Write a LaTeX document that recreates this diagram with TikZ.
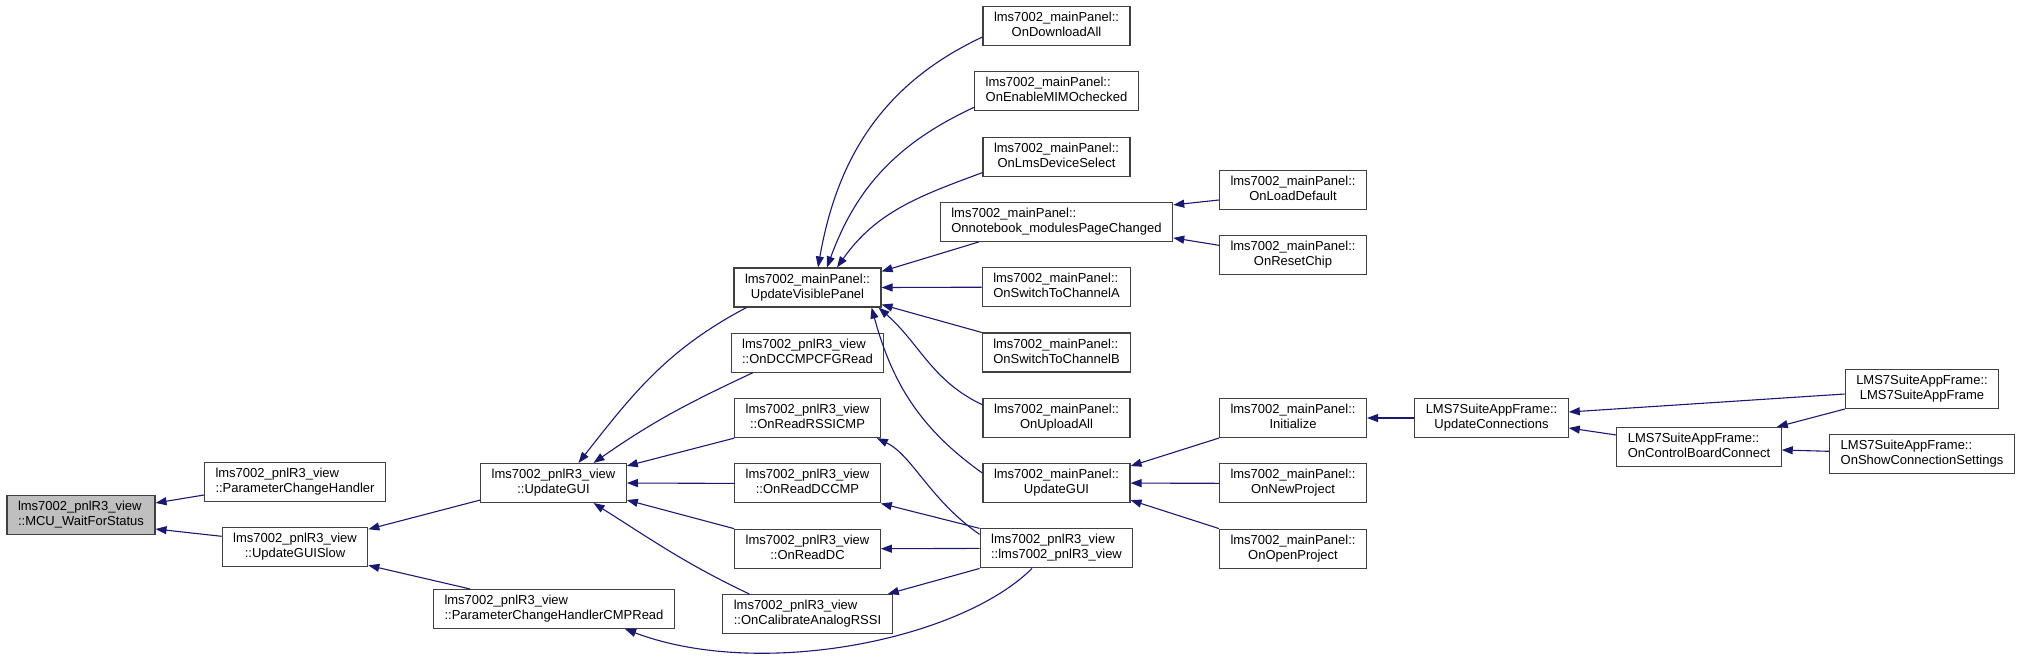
\documentclass[tikz,border=0pt]{standalone}
\usepackage{fontspec}
\setmainfont{Liberation Sans}
\usepackage{tikz}
\usetikzlibrary{arrows.meta,positioning}
\definecolor{edgeblue}{HTML}{191970}
\newcommand{\fnlabel}[2]{\begin{tabular}{@{}c@{}}\multicolumn{1}{@{}l@{}}{#1}\\#2\end{tabular}}

\begin{document}
\begin{tikzpicture}[
  x=1pt, y=-1pt,
  font=\fontsize{13}{15}\selectfont,
  fn/.style={draw=black!75, line width=1.1pt, fill=white, minimum height=39pt, inner xsep=11pt, inner ysep=2pt},
  root/.style={fn, fill=black!25},
  arr/.style={edgeblue, line width=1.1pt, -{Triangle[length=11pt, width=8pt]}},
  node distance=25.2pt
]
\useasboundingbox (0,0) rectangle (2021,665);
\node[root] (mcu) at (81,515) {\fnlabel{lms7002\_pnlR3\_view}{::MCU\_WaitForStatus}};
\node[fn] (pch) at (295,482) {\fnlabel{lms7002\_pnlR3\_view}{::ParameterChangeHandler}};
\node[fn, below=of pch] (ugs) {\fnlabel{lms7002\_pnlR3\_view}{::UpdateGUISlow}};
\node[fn] (pgui) at (553.5,483) {\fnlabel{lms7002\_pnlR3\_view}{::UpdateGUI}};
\node[fn] (cmpr) at (554,609) {\fnlabel{lms7002\_pnlR3\_view}{::ParameterChangeHandlerCMPRead}};
\node[fn] (uvp) at (807.5,287.5) {\fnlabel{lms7002\_mainPanel::}{UpdateVisiblePanel}};
\node[fn, below=of uvp] (cfg) {\fnlabel{lms7002\_pnlR3\_view}{::OnDCCMPCFGRead}};
\node[fn, below=of cfg] (rssi) {\fnlabel{lms7002\_pnlR3\_view}{::OnReadRSSICMP}};
\node[fn, below=of rssi] (dccmp) {\fnlabel{lms7002\_pnlR3\_view}{::OnReadDCCMP}};
\node[fn, below=of dccmp] (rdc) {\fnlabel{lms7002\_pnlR3\_view}{::OnReadDC}};
\node[fn, below=of rdc] (cal) {\fnlabel{lms7002\_pnlR3\_view}{::OnCalibrateAnalogRSSI}};
\node[fn] (dl) at (1056.5,26) {\fnlabel{lms7002\_mainPanel::}{OnDownloadAll}};
\node[fn, below=of dl] (mimo) {\fnlabel{lms7002\_mainPanel::}{OnEnableMIMOchecked}};
\node[fn, below=of mimo] (lms) {\fnlabel{lms7002\_mainPanel::}{OnLmsDeviceSelect}};
\node[fn, below=of lms] (nb) {\fnlabel{lms7002\_mainPanel::}{Onnotebook\_modulesPageChanged}};
\node[fn, below=of nb] (cha) {\fnlabel{lms7002\_mainPanel::}{OnSwitchToChannelA}};
\node[fn, below=of cha] (chb) {\fnlabel{lms7002\_mainPanel::}{OnSwitchToChannelB}};
\node[fn, below=of chb] (upl) {\fnlabel{lms7002\_mainPanel::}{OnUploadAll}};
\node[fn, below=of upl] (mgui) {\fnlabel{lms7002\_mainPanel::}{UpdateGUI}};
\node[fn, below=of mgui] (ctor) {\fnlabel{lms7002\_pnlR3\_view}{::lms7002\_pnlR3\_view}};
\node[fn] (ldef) at (1293,190) {\fnlabel{lms7002\_mainPanel::}{OnLoadDefault}};
\node[fn, below=of ldef] (rst) {\fnlabel{lms7002\_mainPanel::}{OnResetChip}};
\node[fn] (init) at (1293,418) {\fnlabel{lms7002\_mainPanel::}{Initialize}};
\node[fn, below=of init] (newp) {\fnlabel{lms7002\_mainPanel::}{OnNewProject}};
\node[fn, below=of newp] (openp) {\fnlabel{lms7002\_mainPanel::}{OnOpenProject}};
\node[fn] (upc) at (1491.5,418) {\fnlabel{LMS7SuiteAppFrame::}{UpdateConnections}};
\node[fn] (cbc) at (1699,447) {\fnlabel{LMS7SuiteAppFrame::}{OnControlBoardConnect}};
\node[fn] (frame) at (1922,389) {\fnlabel{LMS7SuiteAppFrame::}{LMS7SuiteAppFrame}};
\node[fn, below=of frame] (scs) {\fnlabel{LMS7SuiteAppFrame::}{OnShowConnectionSettings}};
\draw[arr] ([yshift=-13pt]pch.west) -- ([yshift=12pt]mcu.east);
\draw[arr] ([yshift=11pt]ugs.west) -- ([yshift=-14pt]mcu.east);
\draw[arr] ([yshift=3pt]pgui.south west) -- ([yshift=-2pt]ugs.north east);
\draw[arr] ([xshift=37pt]cmpr.north west) -- ([yshift=2pt]ugs.south east);
\draw[arr] ([xshift=13pt]uvp.south west) .. controls (668,349) and (634,392) .. ([xshift=25pt]pgui.north);
\draw[arr] ([xshift=22pt]cfg.south west) .. controls (688,403) and (652,422) .. ([xshift=40pt]pgui.north);
\draw[arr] (rssi.south west) -- ([yshift=-3pt]pgui.north east);
\draw[arr] (dccmp.west) -- (pgui.east);
\draw[arr] (rdc.north west) -- ([yshift=3pt]pgui.south east);
\draw[arr] ([xshift=27pt]cal.north west) .. controls (686,564) and (652,540) .. ([xshift=40pt]pgui.south);
\draw[arr] ([yshift=-11pt]dl.west) .. controls (882,84) and (837,159) .. ([xshift=10.5pt]uvp.north);
\draw[arr] ([yshift=-16pt]mimo.west) .. controls (897,143) and (856,188) .. ([xshift=19.5pt]uvp.north);
\draw[arr] ([yshift=-16pt]lms.west) .. controls (919,196) and (876,212) .. ([xshift=29.5pt]uvp.north);
\draw[arr] ([xshift=39pt]nb.south west) -- ([yshift=-4pt]uvp.north east);
\draw[arr] (cha.west) -- (uvp.east);
\draw[arr] (chb.north west) -- ([yshift=3pt]uvp.south east);
\draw[arr] ([yshift=13pt]upl.west) .. controls (932,381) and (920,344) .. ([xshift=-3pt]uvp.south east);
\draw[arr] ([yshift=10pt]mgui.west) .. controls (919,428) and (892,382) .. ([xshift=-10pt]uvp.south east);
\draw[arr] ([yshift=-6pt]ctor.north west) .. controls (930,500) and (912,455) .. ([xshift=-4pt]rssi.south east);
\draw[arr] (ctor.north west) -- (dccmp.south east);
\draw[arr] (ctor.west) -- (rdc.east);
\draw[arr] (ctor.south west) -- ([xshift=-5pt]cal.north east);
\draw[arr] ([xshift=-24.5pt]ctor.south) .. controls (960,640) and (760,680) .. ([xshift=-50pt]cmpr.south east);
\draw[arr] ([yshift=-10pt]ldef.west) -- ([yshift=17pt]nb.east);
\draw[arr] ([yshift=10pt]rst.west) -- ([yshift=-16pt]nb.east);
\draw[arr] (init.south west) -- ([yshift=-3pt]mgui.north east);
\draw[arr] (newp.west) -- (mgui.east);
\draw[arr] (openp.north west) -- ([yshift=3pt]mgui.south east);
\draw[arr] (upc.west) -- (init.east);
\draw[arr] ([yshift=-5pt]frame.west) -- ([yshift=6pt]upc.east);
\draw[arr] ([yshift=12pt]cbc.west) -- ([yshift=-10pt]upc.east);
\draw[arr] (frame.south west) -- ([xshift=-5pt]cbc.north east);
\draw[arr] ([yshift=3pt]scs.west) -- ([yshift=-3pt]cbc.east);
\end{tikzpicture}
\end{document}
